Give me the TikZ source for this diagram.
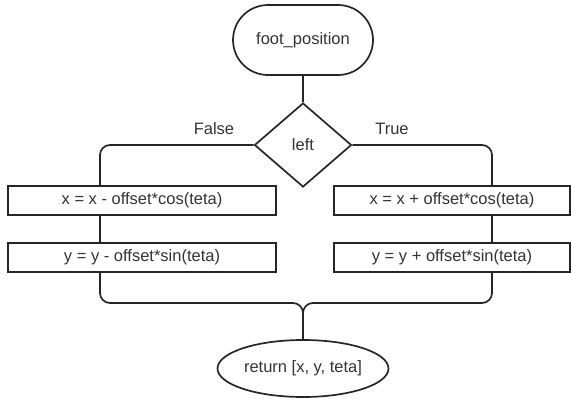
\documentclass[tikz,border=0pt]{standalone}
\usepackage{fontspec}
\setmainfont{Liberation Sans}
\usetikzlibrary{shapes.geometric}
\begin{document}
\begin{tikzpicture}[x=1pt,y=-1pt,
  ln/.style={line width=1.7pt, draw=black!85},
  txt/.style={font=\fontsize{16.5}{19}\selectfont, text=black!80},
  procbox/.style={ln, txt, rectangle, minimum height=29pt, inner sep=0pt},
  conn/.style={ln, rounded corners=10pt}
]
\useasboundingbox (0,0) rectangle (571,399);
\node[ln, txt, rectangle, rounded corners=35pt, minimum width=140pt, minimum height=70pt, inner sep=0pt] (top) at (303,40) {foot\_position};
\node[ln, txt, diamond, minimum width=97pt, minimum height=84pt, inner sep=0pt, aspect=1.15] (dia) at (303,145) {left};
\node[procbox, minimum width=268pt] (lb1) at (142,200.5) {x = x - offset*cos(teta)};
\node[procbox, minimum width=268pt] (lb2) at (142,257.5) {y = y - offset*sin(teta)};
\node[procbox, minimum width=236pt] (rb1) at (452,200.5) {x = x + offset*cos(teta)};
\node[procbox, minimum width=236pt] (rb2) at (452,257.5) {y = y + offset*sin(teta)};
\node[ln, txt, ellipse, minimum width=171pt, minimum height=57pt, inner sep=0pt] (ret) at (303,368.5) {return [x, y, teta]};
\node[txt] (fl) at (214,129) {False};
\node[txt] (tl) at (392,129) {True};
\coordinate (lx) at (100,0);
\coordinate (rx) at (492,0);
\coordinate (mg) at (303,303);
\draw[ln] (top) -- (dia);
\draw[conn] (dia.west) -| (lb1.north -| lx);
\draw[conn] (dia.east) -| (rb1.north -| rx);
\draw[ln] (lb1.south -| lx) -- (lb2.north -| lx);
\draw[ln] (rb1.south -| rx) -- (rb2.north -| rx);
\draw[conn] (lb2.south -| lx) |- (mg) -- (ret.north);
\draw[conn] (rb2.south -| rx) |- (mg) -- (ret.north);
\end{tikzpicture}
\end{document}
